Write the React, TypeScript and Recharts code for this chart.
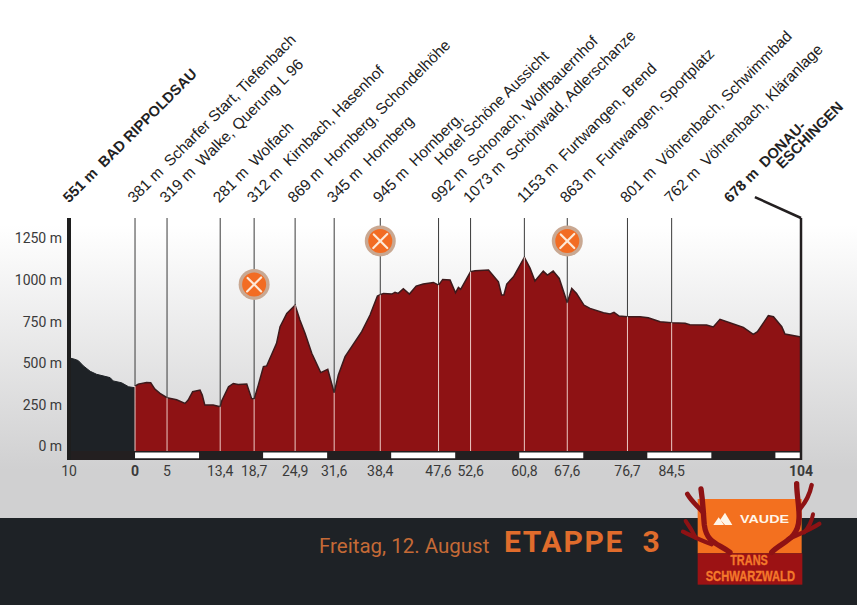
import { Area, ComposedChart, ReferenceArea, ReferenceLine, Scatter, XAxis, YAxis } from 'recharts';

// km and metres
const approachKm = [-10, -9.4, -8.85, -8.05, -7, -6, -3.9, -3.4, -2.1, -1, 0];
const approachElev = [530, 524, 516, 484, 452, 434, 414, 394, 383, 359, 353];

const stageKm = [
	0, 0.5, 1.8, 2.45, 3.1, 3.9, 5, 6.5, 7.8, 8.3, 9, 10.15, 10.5, 10.9, 12.2, 13.3, 13.55, 14.6, 15.35, 16.1, 17.45, 18.2,
	18.6, 19.25, 20.05, 20.55, 22.1, 22.65, 23.7, 25, 25.75, 26.55, 27.6, 29, 30.1, 30.55, 31.1, 31.75, 32.8, 35.4, 36.7,
	37.85, 38.3, 38.8, 40.1, 40.6, 41.1, 41.9, 42.85, 43.9, 45, 46.6, 47.4, 48.05, 49.2, 50.05, 50.5, 50.85, 52.4, 53.1,
	55.2, 56.75, 57.25, 57.6, 58.05, 59.1, 60.8, 61.7, 62.45, 63.75, 64.4, 65.3, 66.25, 67.5, 68.2, 68.95, 70.1, 71.05,
	73.15, 74.2, 74.8, 75.6, 76.9, 78.85, 80.15, 82, 83.8, 85.9, 86.65, 89.25, 90.3, 91.35, 93.45, 95, 96.55, 97.2, 98.9,
	99.7, 101, 101.5, 104,
];
const stageElev = [
	363, 375, 385, 383, 345, 319, 293, 281, 259, 279, 329, 339, 309, 249, 249, 239, 275, 359, 379, 373, 375, 289,
	285, 369, 480, 484, 620, 720, 800, 850, 760, 680, 560, 444, 464, 400, 323, 430, 540, 690, 790,
	904, 912, 920, 916, 926, 920, 948, 916, 964, 976, 986, 970, 1004, 1000, 924, 956, 944, 1050, 1056,
	1060, 990, 910, 910, 976, 1020, 1137, 1070, 994, 1054, 1030, 1054, 1010, 864, 950, 920, 850, 830,
	804, 796, 806, 784, 780, 780, 774, 750, 744, 740, 732, 730, 718, 764, 736, 716, 674, 690, 786,
	780, 720, 676, 658,
];

const stationKm = [0, 5, 13.3, 18.6, 25, 31.1, 38.3, 47.4, 52.4, 60.8, 67.5, 76.9, 83.8];
const kmLabels = ['0', '5', '13,4', '18,7', '24,9', '31,6', '38,4', '47,6', '52,6', '60,8', '67,6', '76,7', '84,5'];

const placeNames = [
	'551 m  BAD RIPPOLDSAU',
	'381 m  Scharfer Start, Tiefenbach',
	'319 m  Walke, Querung L 96',
	'281 m  Wolfach',
	'312 m  Kirnbach, Hasenhof',
	'869 m  Hornberg, Schondelhöhe',
	'345 m  Hornberg',
	'945 m  Hornberg,',
	'992 m  Schonach, Wolfbauernhof',
	'1073 m  Schönwald, Adlerschanze',
	'1153 m  Furtwangen, Brend',
	'863 m  Furtwangen, Sportplatz',
	'801 m  Vöhrenbach, Schwimmbad',
	'762 m  Vöhrenbach, Kläranlage',
	'678 m  DONAU-',
];
const secondLines: Record<number, string> = { 7: 'Hotel Schöne Aussicht', 14: 'ESCHINGEN' };

const restKm = [18.6, 38.3, 67.5];
const restHeight = [974, 1235, 1235];

const elevTicks = [0, 250, 500, 750, 1000, 1250];
const whiteBands = [[0, 10], [20, 30], [40, 50], [60, 70], [80, 90], [100, 104]];

const axisStart = -10.31;
const finishKm = 104;
const yMin = -81;
const yMax = 1373;
const groundY = -27;

const profile = [
	...approachKm.slice(0, -1).map((km, i) => ({ km, approach: approachElev[i] })),
	{ km: 0, approach: approachElev[approachElev.length - 1], stage: stageElev[0] },
	...stageKm.slice(1).map((km, i) => ({ km, stage: stageElev[i + 1] })),
];
const rests = restKm.map((km, i) => ({ km, height: restHeight[i] }));
const axisTicks = [axisStart, ...stationKm, finishKm];
const bottomLabels = ['10', ...kmLabels, '104'];
const elevAt = (km: number) => stageElev[stageKm.indexOf(km)];

const PlaceTick = (props: any) => {
	const { x, index } = props;
	const bold = index === 0 || index === placeNames.length - 1;
	const px = index === placeNames.length - 1 ? x - 71 : index === 0 ? x : x - 1;
	const py = 203.5;
	const second = secondLines[index];
	return (
		<text
			x={px}
			y={py}
			transform={`rotate(-45 ${px} ${py})`}
			fontFamily="Liberation Sans"
			fontSize={bold ? 14.7 : 15.4}
			fontWeight={bold ? 700 : 400}
			fill="#222"
			style={{ whiteSpace: 'pre' }}
		>
			{placeNames[index]}
			{second && (
				<tspan x={px + (bold ? 61 : 70)} dy={bold ? 13 : 17}>
					{second}
				</tspan>
			)}
		</text>
	);
};

const KmTick = (props: any) => {
	const { x, index } = props;
	const bold = index === 1 || index === bottomLabels.length - 1;
	return (
		<text x={x} y={476} textAnchor="middle" fontFamily="Roboto" fontSize={14} fontWeight={bold ? 700 : 400} fill="#3a3a3a">
			{bottomLabels[index]}
		</text>
	);
};

const RestIcon = (props: any) => {
	const { cx, cy } = props;
	return (
		<g>
			<circle cx={cx} cy={cy} r={15.5} fill="#c9a892" />
			<circle cx={cx} cy={cy} r={12} fill="#f26c23" />
			<g stroke="#fde9d8" strokeWidth={2.2} strokeLinecap="round">
				<line x1={cx - 6.5} y1={cy - 6.5} x2={cx + 7} y2={cy + 7} />
				<line x1={cx + 7} y1={cy - 7} x2={cx - 7} y2={cy + 7} />
			</g>
		</g>
	);
};

const Logo = () => (
	<svg width={155} height={125} viewBox="0 0 465 375" style={{ position: 'absolute', left: 675, top: 475 }}>
		<rect x={68} y={72} width={312} height={163} fill="#f3701f" />
		<rect x={68} y={235} width={314} height={94} fill="#9c1214" />
		<path d="M115 150 L131 127 L147 150 Z M136 134 L150 113 L172 150 L150 150 Z" fill="#fff5e8" />
		<text x={195} y={143} fontFamily="Liberation Sans" fontSize={31} fontWeight={700} fill="#fff5e8" textLength={147} lengthAdjust="spacingAndGlyphs">
			VAUDE
		</text>
		<text x={222} y={270} textAnchor="middle" fontFamily="Liberation Sans" fontSize={42} fontWeight={700} fill="#f4792b" stroke="#f4792b" strokeWidth={1} textLength={113} lengthAdjust="spacingAndGlyphs">
			TRANS
		</text>
		<text x={226} y={317} textAnchor="middle" fontFamily="Liberation Sans" fontSize={42} fontWeight={700} fill="#f4792b" stroke="#f4792b" strokeWidth={1} textLength={268} lengthAdjust="spacingAndGlyphs">
			SCHWARZWALD
		</text>
		<g fill="none" stroke="#8e1214" strokeLinecap="round">
			<path d="M165 232 C130 205 95 205 88 150 C85 120 85 90 78 42" strokeWidth={16} />
			<path d="M86 115 C70 95 50 80 37 57" strokeWidth={14} />
			<path d="M110 208 C75 195 45 180 24 170" strokeWidth={13} />
			<path d="M62 188 C52 168 42 152 32 138" strokeWidth={12} />
			<path d="M290 232 C320 200 370 195 372 130 C374 100 365 60 365 26" strokeWidth={16} />
			<path d="M372 105 C390 85 405 55 410 30" strokeWidth={13} />
			<path d="M340 192 C370 178 410 162 433 146" strokeWidth={13} />
			<path d="M388 172 C398 160 410 140 414 118" strokeWidth={12} />
		</g>
	</svg>
);

export default function App() {
	return (
		<div
			style={{
				position: 'absolute',
				left: 0,
				top: 0,
				width: 857,
				height: 605,
				overflow: 'hidden',
				background: 'linear-gradient(#ffffff 225px, #d0d0d1 470px)',
			}}
		>
			<div style={{ position: 'absolute', left: 0, top: 518, width: 857, height: 87, background: '#1e2226' }} />
			<div style={{ position: 'absolute', left: 319, top: 533, fontFamily: 'Roboto', fontSize: 20.5, lineHeight: '26px', color: '#c56a36', whiteSpace: 'pre' }}>
				Freitag, 12. August
			</div>
			<div style={{ position: 'absolute', left: 504, top: 523, fontFamily: 'Roboto', fontSize: 30, fontWeight: 700, lineHeight: '38px', color: '#e06c2c', whiteSpace: 'pre', letterSpacing: 1.7 }}>
				ETAPPE  3
			</div>
			<Logo />
			<ComposedChart
				width={857}
				height={605}
				data={profile}
				margin={{ top: 188, right: 56, bottom: 115, left: 0 }}
				style={{ position: 'absolute', left: 0, top: 0 }}
			>
				<XAxis
					xAxisId="km"
					dataKey="km"
					type="number"
					domain={[axisStart, finishKm]}
					ticks={axisTicks}
					interval={0}
					height={30}
					axisLine={false}
					tickLine={false}
					tick={KmTick}
				/>
				<XAxis
					xAxisId="places"
					dataKey="km"
					type="number"
					orientation="top"
					domain={[axisStart, finishKm]}
					ticks={axisTicks}
					interval={0}
					height={30}
					axisLine={false}
					tickLine={false}
					tick={PlaceTick}
				/>
				<YAxis
					yAxisId="m"
					type="number"
					domain={[yMin, yMax]}
					ticks={elevTicks}
					interval={0}
					width={69}
					allowDataOverflow
					axisLine={{ stroke: '#1e1e1e', strokeWidth: 4 }}
					tickLine={false}
					tickMargin={1}
					tickFormatter={(v: number) => `${v} m`}
					tick={{ fontFamily: 'Roboto', fontSize: 14, fill: '#3a3a3a' }}
				/>
				<ReferenceArea xAxisId="km" yAxisId="m" x1={axisStart} x2={finishKm} y1={yMin} y2={groundY} fill="#231f20" fillOpacity={1} stroke="none" ifOverflow="visible" />
				{whiteBands.map(([a, b]) => (
					<ReferenceArea key={a} xAxisId="km" yAxisId="m" x1={a} x2={b} y1={-70} y2={-36} fill="#ffffff" fillOpacity={1} stroke="none" ifOverflow="visible" />
				))}
				<Area xAxisId="km" yAxisId="m" type="linear" dataKey="approach" baseValue={groundY} fill="#1e2226" fillOpacity={1} stroke="#1e2226" strokeWidth={1} isAnimationActive={false} dot={false} activeDot={false} />
				<Area xAxisId="km" yAxisId="m" type="linear" dataKey="stage" baseValue={groundY} fill="#8e1214" fillOpacity={1} stroke="#3d1a1c" strokeWidth={1.5} isAnimationActive={false} dot={false} activeDot={false} />
				{stationKm.map((km) => (
					<ReferenceLine key={`up${km}`} xAxisId="km" yAxisId="m" segment={[{ x: km, y: elevAt(km) }, { x: km, y: yMax }]} stroke="#3a3a3a" strokeWidth={1} />
				))}
				{stationKm.map((km) => (
					<ReferenceLine key={`down${km}`} xAxisId="km" yAxisId="m" segment={[{ x: km, y: groundY }, { x: km, y: elevAt(km) }]} stroke="#ecc9c4" strokeWidth={1} />
				))}
				<ReferenceLine xAxisId="km" yAxisId="m" segment={[{ x: finishKm, y: yMin }, { x: finishKm, y: yMax }]} stroke="#231f20" strokeWidth={2.5} ifOverflow="visible" />
				<ReferenceLine xAxisId="km" yAxisId="m" segment={[{ x: 96.8, y: 1499 }, { x: finishKm, y: yMax }]} stroke="#231f20" strokeWidth={2.5} ifOverflow="visible" />
				<Scatter xAxisId="km" yAxisId="m" data={rests} dataKey="height" shape={RestIcon} isAnimationActive={false} />
			</ComposedChart>
		</div>
	);
}
